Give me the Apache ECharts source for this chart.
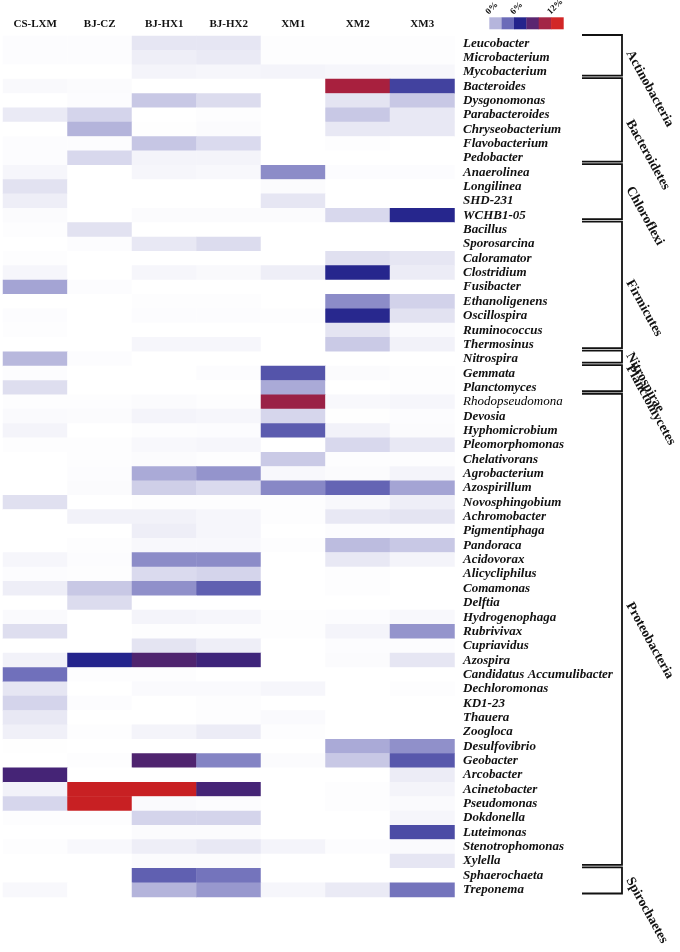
<!DOCTYPE html>
<html lang="en">

<head>
    <meta charset="UTF-8">
    <title>Heatmap of dominant genera</title>
    <script src="https://cdn.jsdelivr.net/npm/echarts@6/dist/echarts.min.js"></script>
    <style>
        html, body { margin: 0; padding: 0; background: #fff; }
        #main { width: 680px; height: 952px; }
    </style>
</head>

<body>
    <div id="main"></div>
    <script>
        // sampling sites (columns)
        var sites = ['CS-LXM', 'BJ-CZ', 'BJ-HX1', 'BJ-HX2', 'XM1', 'XM2', 'XM3'];

        // genera (rows, top to bottom)
        var genera = [
            'Leucobacter', 'Microbacterium', 'Mycobacterium', 'Bacteroides', 'Dysgonomonas',
            'Parabacteroides', 'Chryseobacterium', 'Flavobacterium', 'Pedobacter', 'Anaerolinea',
            'Longilinea', 'SHD-231', 'WCHB1-05', 'Bacillus', 'Sporosarcina',
            'Caloramator', 'Clostridium', 'Fusibacter', 'Ethanoligenens', 'Oscillospira',
            'Ruminococcus', 'Thermosinus', 'Nitrospira', 'Gemmata', 'Planctomyces',
            'Rhodopseudomona', 'Devosia', 'Hyphomicrobium', 'Pleomorphomonas', 'Chelativorans',
            'Agrobacterium', 'Azospirillum', 'Novosphingobium', 'Achromobacter', 'Pigmentiphaga',
            'Pandoraca', 'Acidovorax', 'Alicycliphilus', 'Comamonas', 'Delftia',
            'Hydrogenophaga', 'Rubrivivax', 'Cupriavidus', 'Azospira', 'Candidatus Accumulibacter',
            'Dechloromonas', 'KD1-23', 'Thauera', 'Zoogloca', 'Desulfovibrio',
            'Geobacter', 'Arcobacter', 'Acinetobacter', 'Pseudomonas', 'Dokdonella',
            'Luteimonas', 'Stenotrophomonas', 'Xylella', 'Sphaerochaeta', 'Treponema'
        ];

        // relative abundance (%), one row per genus, one value per site
        var abundance = [
            [0.08, 0.08, 0.68, 0.68, 0.05, 0.05, 0.05],
            [0.08, 0.08, 0.46, 0.57, 0.05, 0.05, 0.05],
            [0, 0, 0.30, 0.25, 0.30, 0.25, 0.22],
            [0.15, 0.12, 0, 0, 0, 10.15, 5.15],
            [0, 0.08, 1.49, 0.95, 0, 0.73, 1.49],
            [0.57, 1.16, 0, 0.05, 0, 1.49, 0.62],
            [0, 2.03, 0.03, 0.11, 0, 0.62, 0.62],
            [0.08, 0.08, 1.54, 1.00, 0, 0.05, 0],
            [0.08, 1.05, 0.30, 0.30, 0, 0, 0],
            [0.24, 0, 0.24, 0.19, 3.11, 0.08, 0.08],
            [0.78, 0, 0, 0, 0.11, 0, 0],
            [0.46, 0, 0, 0, 0.68, 0, 0],
            [0.11, 0, 0.11, 0.11, 0.11, 1.05, 5.94],
            [0.05, 0.78, 0, 0, 0, 0, 0],
            [0, 0.08, 0.62, 0.95, 0, 0, 0],
            [0.05, 0, 0, 0, 0, 0.84, 0.68],
            [0.24, 0, 0.24, 0.16, 0.46, 5.94, 0.51],
            [2.46, 0.08, 0, 0, 0, 0, 0],
            [0, 0, 0.05, 0.05, 0, 3.11, 1.22],
            [0.08, 0, 0.08, 0.08, 0.05, 5.89, 0.78],
            [0.05, 0, 0, 0, 0, 0.73, 0.14],
            [0, 0, 0.24, 0.24, 0, 1.43, 0.35],
            [1.92, 0.08, 0, 0, 0, 0, 0],
            [0.08, 0, 0, 0.08, 4.65, 0.11, 0.05],
            [0.89, 0, 0, 0, 2.30, 0, 0.05],
            [0.05, 0.05, 0.11, 0.05, 9.74, 0.19, 0.24],
            [0.14, 0.11, 0.30, 0.24, 1.11, 0.03, 0.08],
            [0.30, 0, 0.05, 0.08, 4.42, 0.35, 0.11],
            [0.05, 0.05, 0.19, 0.24, 0, 1.05, 0.62],
            [0, 0.05, 0.11, 0.05, 1.43, 0.05, 0.05],
            [0, 0.08, 2.30, 2.89, 0.19, 0.11, 0.30],
            [0, 0.11, 1.30, 1.00, 3.22, 4.20, 2.46],
            [0.84, 0, 0.05, 0.05, 0.05, 0.19, 0.46],
            [0, 0.35, 0.35, 0.24, 0.05, 0.62, 0.73],
            [0, 0, 0.46, 0.24, 0, 0.08, 0.08],
            [0, 0.05, 0.19, 0.19, 0.05, 1.81, 1.49],
            [0.24, 0.08, 3.11, 3.11, 0, 0.62, 0.30],
            [0.08, 0.05, 1.00, 1.16, 0, 0.05, 0],
            [0.46, 1.49, 3.00, 4.31, 0, 0.05, 0],
            [0, 0.95, 0, 0, 0, 0, 0],
            [0.14, 0, 0.30, 0.24, 0.05, 0.08, 0.19],
            [0.89, 0, 0.05, 0.05, 0.05, 0.30, 2.89],
            [0, 0, 0.73, 0.46, 0, 0.08, 0.08],
            [0.35, 6.00, 7.95, 7.18, 0, 0.11, 0.68],
            [3.86, 0.05, 0.05, 0, 0, 0, 0],
            [0.68, 0, 0.14, 0.14, 0.24, 0, 0.05],
            [1.16, 0.08, 0, 0.05, 0, 0, 0],
            [0.62, 0, 0, 0.05, 0.14, 0, 0],
            [0.41, 0.05, 0.30, 0.51, 0.05, 0, 0],
            [0.03, 0, 0, 0, 0, 2.30, 3.00],
            [0, 0.05, 7.95, 3.32, 0.11, 1.49, 4.54],
            [7.50, 0, 0, 0, 0, 0, 0.51],
            [0.35, 11.8, 11.8, 7.50, 0, 0.05, 0.30],
            [1.11, 11.8, 0.14, 0.08, 0, 0.05, 0.14],
            [0.05, 0.05, 1.16, 1.16, 0, 0, 0.24],
            [0, 0, 0.11, 0.11, 0, 0, 4.87],
            [0.05, 0.19, 0.46, 0.62, 0.30, 0.08, 0.14],
            [0, 0, 0.11, 0.11, 0, 0, 0.68],
            [0, 0, 4.31, 3.76, 0, 0, 0],
            [0.19, 0, 2.03, 2.78, 0.24, 0.57, 3.76]
        ];

        // phyla and the first / last genus they cover
        var phyla = ['Actinobacteria', 'Bacteroidetes', 'Chloroflexi', 'Firmicutes',
            'Nitrospirae', 'Planctomycetes', 'Proteobacteria', 'Spirochaetes'];
        var phylumFirst = ['Leucobacter', 'Bacteroides', 'Anaerolinea', 'Bacillus',
            'Nitrospira', 'Gemmata', 'Rhodopseudomona', 'Sphaerochaeta'];
        var phylumLast = ['Mycobacterium', 'Pedobacter', 'WCHB1-05', 'Thermosinus',
            'Nitrospira', 'Planctomyces', 'Xylella', 'Treponema'];

        // colour scale
        var scaleMin = 0, scaleMax = 12;
        var scaleColors = ['#ffffff', '#b5b5dc', '#6b6bb8', '#24248c', '#50246e', '#a52040', '#cc2020'];
        var legendColors = ['#b5b5dc', '#6b6bb8', '#24248c', '#5a2670', '#a32646', '#d22626'];
        var legendTicks = [{ text: '0%', at: 0 }, { text: '6%', at: 2 }, { text: '12%', at: 5 }];

        var serif = '"Liberation Serif", "Times New Roman", serif';

        var cells = [];
        for (var r = 0; r < genera.length; r++) {
            for (var c = 0; c < sites.length; c++) {
                cells.push([c, r, abundance[r][c]]);
            }
        }

        var myChart = echarts.init(document.getElementById('main'));

        var option = {
            backgroundColor: '#ffffff',
            animation: false,
            tooltip: { show: false },
            grid: {
                left: 3,
                top: 36,
                width: 451.5,
                height: 861
            },
            xAxis: {
                type: 'category',
                position: 'top',
                data: sites,
                axisLine: { show: false },
                axisTick: { show: false },
                splitLine: { show: false },
                axisLabel: {
                    interval: 0,
                    margin: 6,
                    fontFamily: serif,
                    fontWeight: 'bold',
                    fontSize: 11,
                    color: '#111'
                }
            },
            yAxis: {
                type: 'category',
                position: 'right',
                inverse: true,
                data: genera,
                axisLine: { show: false },
                axisTick: { show: false },
                splitLine: { show: false },
                axisLabel: {
                    interval: 0,
                    margin: 8.5,
                    align: 'left',
                    fontFamily: serif,
                    fontStyle: 'italic',
                    fontWeight: 'bold',
                    fontSize: 13,
                    color: '#111',
                    formatter: function (name) {
                        // this one is set in a lighter weight in the original
                        return name === 'Rhodopseudomona' ? '{thin|' + name + '}' : name;
                    },
                    rich: {
                        thin: {
                            fontFamily: serif,
                            fontStyle: 'italic',
                            fontWeight: 'normal',
                            fontSize: 13,
                            color: '#000'
                        }
                    }
                }
            },
            visualMap: {
                type: 'continuous',
                show: false,
                min: scaleMin,
                max: scaleMax,
                dimension: 2,
                inRange: { color: scaleColors }
            },
            series: [{
                type: 'heatmap',
                data: cells,
                emphasis: { disabled: true },
                itemStyle: { borderWidth: 0 }
            }]
        };
        myChart.setOption(option);

        // brackets and phylum names on the right, placed from the axis scale
        var graphics = [];
        var yA = myChart.convertToPixel({ yAxisIndex: 0 }, genera[0]);
        var yB = myChart.convertToPixel({ yAxisIndex: 0 }, genera[1]);
        var band = Math.abs(yB - yA);
        var bx0 = 582, bx1 = 622;
        // how far each name starts above its bracket centre
        var labelLift = [4, -1, 4, 4, 3, 12, 26, 2];
        for (var p = 0; p < phyla.length; p++) {
            var yTop = myChart.convertToPixel({ yAxisIndex: 0 }, phylumFirst[p]) - band / 2 - 1;
            var yBot = myChart.convertToPixel({ yAxisIndex: 0 }, phylumLast[p]) + band / 2 - 3.5;
            graphics.push({
                type: 'polyline',
                shape: { points: [[bx0, yTop], [bx1, yTop], [bx1, yBot], [bx0, yBot]] },
                style: { stroke: '#111', lineWidth: 1.8, fill: 'none' }
            });
            graphics.push({
                type: 'text',
                x: 629,
                y: (yTop + yBot) / 2 - labelLift[p],
                rotation: -61 * Math.PI / 180,
                style: {
                    text: phyla[p],
                    fontFamily: serif,
                    fontWeight: 'bold',
                    fontSize: 13.5,
                    fill: '#111',
                    align: 'left',
                    verticalAlign: 'middle'
                }
            });
        }

        // colour key at the top right
        var kx = 489.3, ky = 17.3, kw = 12.35, kh = 12;
        for (var k = 0; k < legendColors.length; k++) {
            graphics.push({
                type: 'rect',
                shape: { x: kx + k * kw, y: ky, width: kw + 0.3, height: kh },
                style: { fill: legendColors[k] }
            });
        }
        for (var t = 0; t < legendTicks.length; t++) {
            graphics.push({
                type: 'text',
                x: kx + legendTicks[t].at * kw + 1,
                y: ky - 1,
                rotation: 45 * Math.PI / 180,
                style: {
                    text: legendTicks[t].text,
                    fontFamily: serif,
                    fontWeight: 'bold',
                    fontSize: 9,
                    fill: '#111',
                    align: 'left',
                    verticalAlign: 'bottom'
                }
            });
        }

        myChart.setOption({ graphic: graphics });
    </script>
</body>

</html>
